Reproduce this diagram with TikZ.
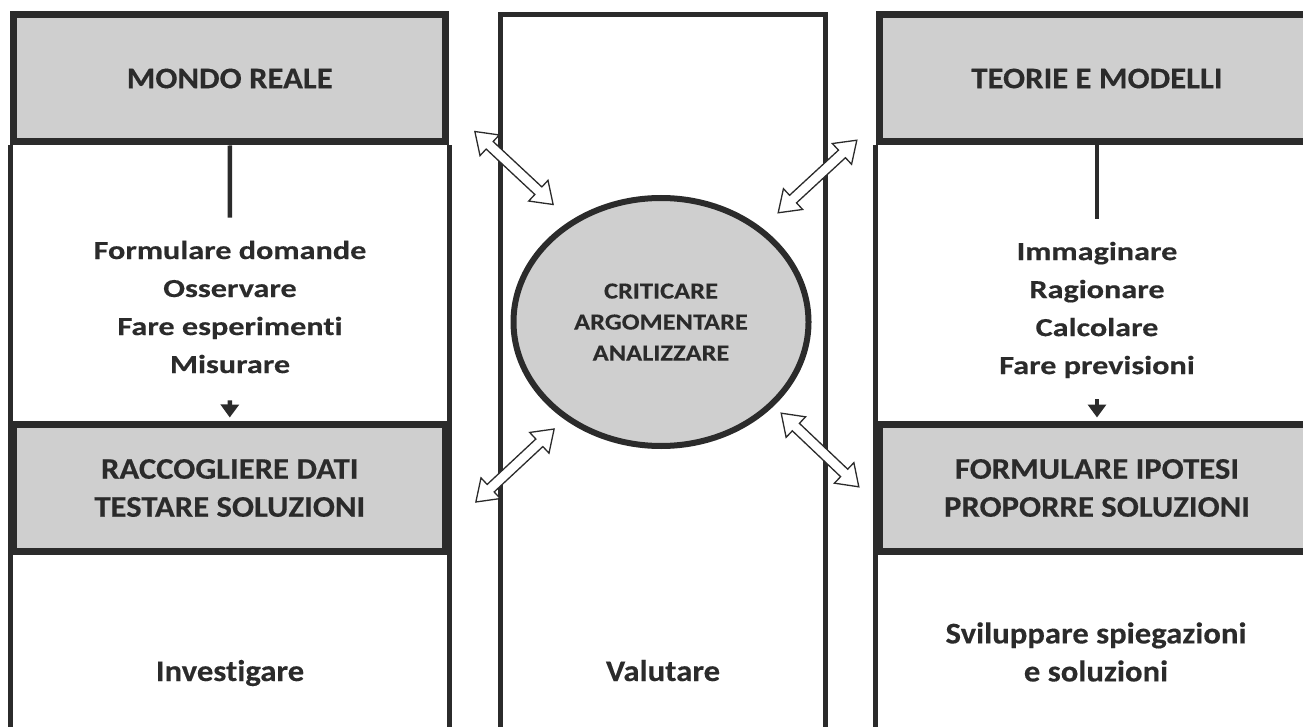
\documentclass[tikz,border=0pt]{standalone}
\usepackage{fontspec}
\setmainfont{Carlito}[Ligatures=NoCommon]
\newfontfamily\hdfont[FakeStretch=1.09,FakeBold=0.3,Ligatures=NoCommon]{Carlito}
\newfontfamily\lsfont[FakeStretch=1.24,FakeBold=0.4,Ligatures=NoCommon]{Carlito}
\newfontfamily\elfont[FakeStretch=1.15,FakeBold=0.2,Ligatures=NoCommon]{Carlito}
\usetikzlibrary{arrows.meta,shapes.geometric,shapes.arrows}
\definecolor{ink}{HTML}{2B2B2B}
\definecolor{boxgray}{HTML}{CFCFCF}

\begin{document}
\begin{tikzpicture}[x=1pt,y=-1pt,
    hdbox/.style={draw=ink,fill=boxgray,line width=7pt,minimum width=432pt,
      minimum height=127pt,inner sep=0pt,align=center,text=ink,
      font=\hdfont\bfseries\fontsize{30}{38}\selectfont},
    steps/.style={inner sep=0pt,align=center,text=ink,
      font=\lsfont\bfseries\fontsize{26}{38}\selectfont},
    verb/.style={inner sep=0pt,align=center,text=ink,
      font=\hdfont\bfseries\fontsize{30}{38}\selectfont},
    colline/.style={draw=ink,line width=4.5pt},
    link/.style={draw=ink,line width=4.5pt},
    down/.style={link,-{Triangle[width=18pt,length=13pt]}},
    twoway/.style={double arrow,draw=ink,fill=white,line width=1.3pt,
      minimum height=107pt,inner xsep=0pt,inner ysep=4.5pt,
      double arrow head extend=9pt,double arrow tip angle=70}]
  \useasboundingbox (0,0) rectangle (1303,727);
  \clip (0,0) rectangle (1303,727);

  % middle column
  \draw[colline,line width=5pt] (500.5,740) |- (825,15) -- (825,740);

  % left and right columns
  \node[hdbox] (mr) at (229.75,78.5) {MONDO REALE};
  \node[hdbox,minimum width=436pt] (tm) at (1097,78.5) {TEORIE E MODELLI};
  \draw[colline] (mr.south west) -- ++(0,600);
  \draw[colline] (mr.south east) -- ++(0,600);
  \draw[colline] (tm.south west) -- ++(0,600);
  \node[hdbox] (rd) at (229.75,488) {RACCOGLIERE DATI\\TESTARE SOLUZIONI};
  \node[hdbox,minimum width=436pt] (fi) at (1097,488) {FORMULARE IPOTESI\\PROPORRE SOLUZIONI};

  \node[steps] (obs) at (230,307) {Formulare domande\\Osservare\\Fare esperimenti\\Misurare};
  \node[steps] (imm) at (1097,310) {Immaginare\\Ragionare\\Calcolare\\Fare previsioni};
  \draw[link,shorten >=23pt] (mr.south) -- (obs.north);
  \draw[down,shorten <=27pt,shorten >=3.5pt] (obs.south) -- (rd.north);
  \draw[link,shorten >=23pt] (tm.south) -- (imm.north);
  \draw[down,shorten <=21pt,shorten >=3.5pt] (imm.south) -- (fi.north);

  % centre
  \node[ellipse,draw=ink,fill=boxgray,line width=6pt,minimum width=295pt,
    minimum height=248pt,inner sep=0pt,align=center,text=ink,
    font=\elfont\bfseries\fontsize{23}{31}\selectfont] (crit) at (661,322)
    {CRITICARE\\ARGOMENTARE\\ANALIZZARE};
  \node[twoway,rotate=-43] (a1) at (514,168) {};
  \node[twoway,rotate=42.7] (a2) at (817.5,176.5) {};
  \node[twoway,rotate=43] (a3) at (515,465.5) {};
  \node[twoway,rotate=-43.5] (a4) at (820,450) {};

  % bottom row
  \node[verb,anchor=base] (inv) at (230,681) {Investigare};
  \node[verb,anchor=base] (val) at (663,681) {Valutare};
  \node[verb] (svi) at (1096,652) {Sviluppare spiegazioni\\e soluzioni};
\end{tikzpicture}
\end{document}
